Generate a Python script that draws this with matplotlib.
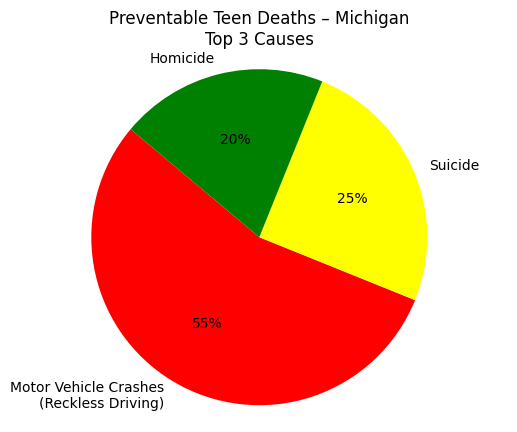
import matplotlib.pyplot as plt

causes = ['Motor Vehicle Crashes\n(Reckless Driving)', 'Suicide', 'Homicide']
shares = [55, 25, 20]
colours = ['red', 'yellow', 'green']

fig, ax = plt.subplots(figsize=(6.4, 4.8), dpi=100)
ax.pie(shares, labels=causes, colors=colours, autopct='%1.0f%%', startangle=140)
ax.axis('equal')
ax.set_title('Preventable Teen Deaths – Michigan\nTop 3 Causes')
plt.savefig('out.png', bbox_inches='tight')
